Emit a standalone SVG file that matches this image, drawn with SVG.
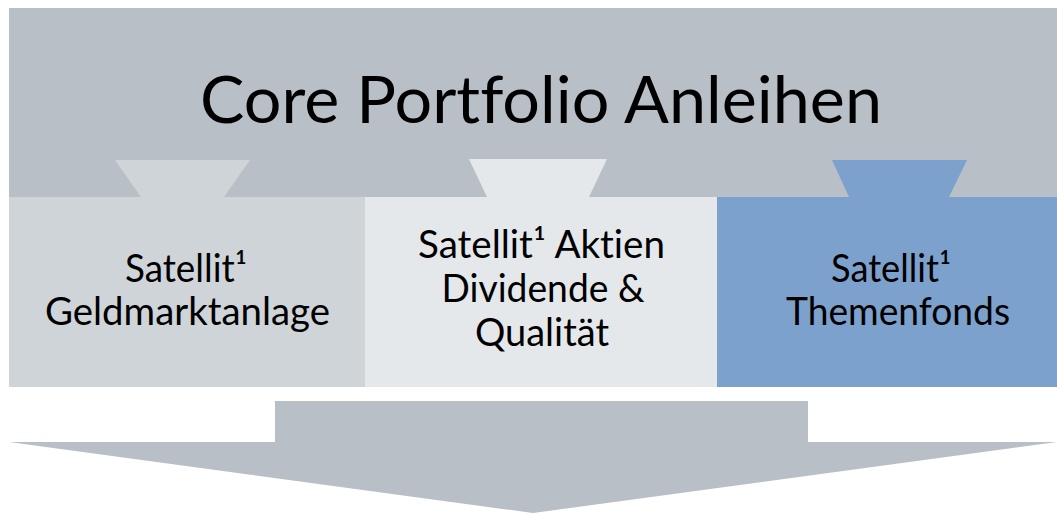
<svg xmlns="http://www.w3.org/2000/svg" width="1057" height="514" viewBox="0 0 1057 514">
<style>
text{font-family:"Lato","Liberation Sans",sans-serif;fill:#000;text-anchor:middle;font-variant-ligatures:none;font-feature-settings:"liga" 0,"clig" 0}
.t{font-size:38px}
.big{font-size:65px}
</style>
<rect width="1057" height="514" fill="#fff"/>
<g id="core">
<rect x="9" y="8" width="1048" height="189" fill="#B8BFC6"/>
<text class="big" x="541" y="123" textLength="682" lengthAdjust="spacingAndGlyphs">Core Portfolio Anleihen</text>
</g>
<g id="connectors">
<polygon points="115,160 250,160 224,197 141,197" fill="#CFD4D8"/>
<polygon points="469,159 607,159 589,197 487,197" fill="#E5E8EB"/>
<polygon points="832,160 967,160 949,197 849,197" fill="#7BA1CC"/>
<polygon points="275,401 808,401 808,442 1057,442 533,513 9,442 275,442" fill="#B8BFC6"/>
</g>
<g id="geld">
<rect x="9" y="197" width="356" height="190" fill="#CFD4D8"/>
<text class="t" x="186" y="282" textLength="122" lengthAdjust="spacingAndGlyphs">Satellit¹</text>
<text class="t" x="187.5" y="325" textLength="285" lengthAdjust="spacingAndGlyphs">Geldmarktanlage</text>
</g>
<g id="aktien">
<rect x="365" y="197" width="352" height="190" fill="#E5E8EB"/>
<text class="t" x="541.5" y="258" textLength="247" lengthAdjust="spacingAndGlyphs">Satellit¹ Aktien</text>
<text class="t" x="543" y="302" textLength="203" lengthAdjust="spacingAndGlyphs">Dividende &amp;</text>
<text class="t" x="542" y="346" textLength="134" lengthAdjust="spacingAndGlyphs">Qualität</text>
</g>
<g id="themen">
<rect x="717" y="197" width="340" height="190" fill="#7BA1CC"/>
<text class="t" x="891" y="282" textLength="120" lengthAdjust="spacingAndGlyphs">Satellit¹</text>
<text class="t" x="898" y="325" textLength="224" lengthAdjust="spacingAndGlyphs">Themenfonds</text>
</g>
</svg>
